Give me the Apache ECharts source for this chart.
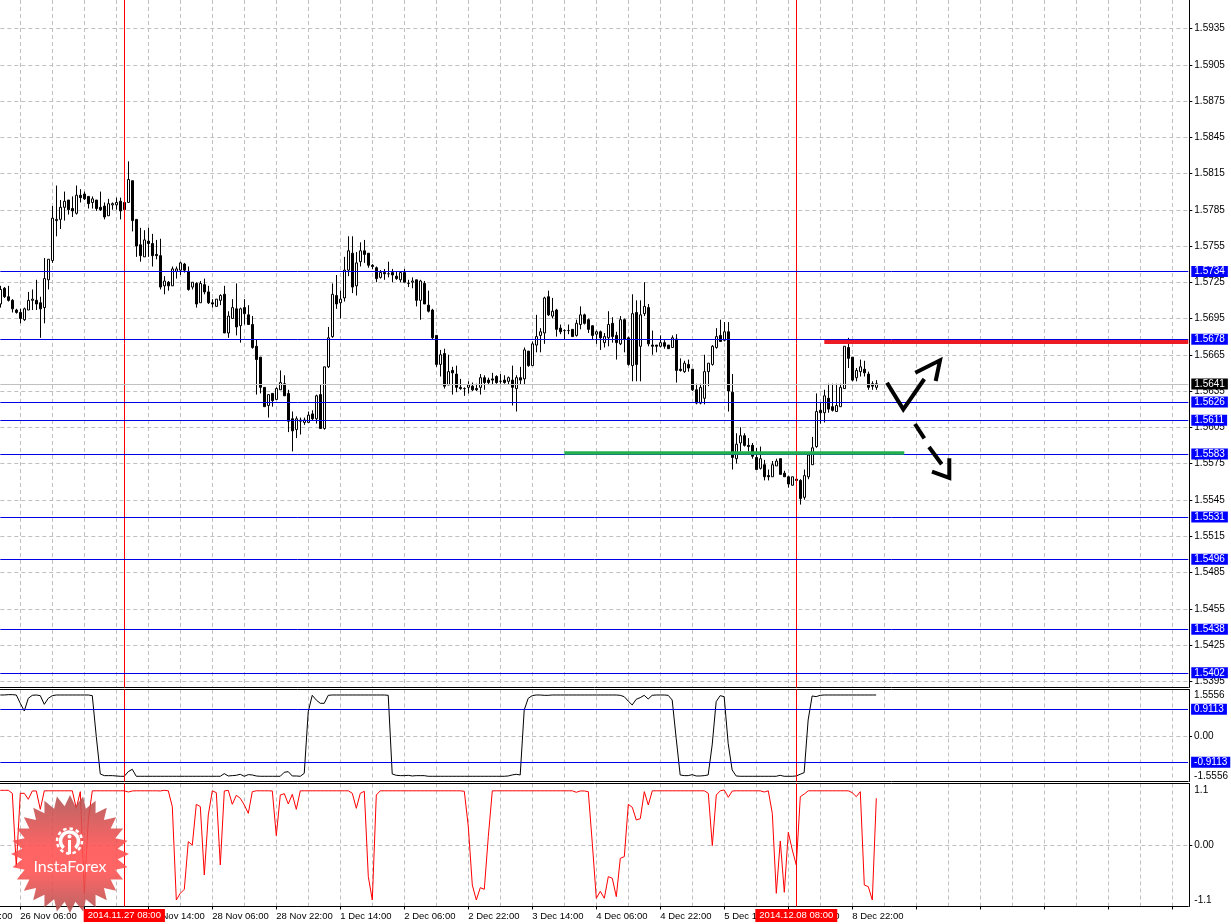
<!DOCTYPE html>
<html>
<head>
<meta charset="utf-8">
<title>GBP/USD H1</title>
<style>html,body{margin:0;padding:0;background:#fff}#c{width:1231px;height:924px}</style>
<script src="https://cdn.jsdelivr.net/npm/echarts@6/dist/echarts.min.js"></script>
</head>
<body>
<div id="c"></div>
<script>
// Prices, in points (price x 10000)
const opens = [
15706,15719,15712,15709,15701,15699,15693,15701,15709,15709,
15707,15703,15726,15742,15775,15776,15786,15792,15785,15781,
15796,15797,15795,15790,15792,15786,15787,15779,15788,15788,
15791,15790,15790,15808,15776,15755,15745,15758,15756,15747,
15746,15721,15724,15721,15733,15734,15739,15733,15720,15723,
15707,15722,15716,15707,15704,15709,15714,15682,15694,15702,
15688,15703,15697,15689,15671,15662,15637,15622,15632,15627,
15635,15640,15632,15611,15602,15609,15608,15608,15615,15611,
15631,15603,15654,15679,15713,15707,15711,15734,15748,15721,
15741,15750,15748,15738,15736,15728,15732,15731,15732,15729,
15726,15732,15723,15724,15726,15709,15723,15705,15701,15680,
15656,15665,15639,15651,15648,15637,15636,15637,15638,15636,
15637,15645,15643,15644,15646,15642,15643,15642,15643,15636,
15645,15644,15667,15655,15672,15680,15682,15712,15696,15701,
15686,15684,15684,15685,15680,15689,15697,15693,15688,15681,
15683,15674,15678,15690,15680,15673,15693,15678,15655,15699,
15671,15698,15703,15672,15672,15671,15674,15672,15670,15677,
15652,15650,15656,15652,15635,15624,15628,15650,15656,15670,
15680,15676,15683,15633,15578,15591,15597,15589,15589,15579,
15570,15573,15564,15563,15572,15578,15566,15563,15556,15561,
15560,15546,15563,15573,15588,15618,15616,15628,15621,15617,
15621,15636,15670,15662,15645,15650,15652,15648,15640,15637];
const closes = [
15718,15712,15709,15702,15699,15694,15702,15709,15710,15706,
15702,15727,15743,15777,15776,15786,15791,15784,15783,15796,
15794,15793,15789,15793,15785,15784,15778,15789,15789,15790,
15783,15784,15809,15775,15754,15746,15759,15756,15746,15746,
15720,15725,15721,15735,15735,15740,15734,15718,15724,15706,
15723,15716,15707,15706,15710,15713,15682,15696,15703,15687,
15702,15698,15689,15670,15660,15637,15621,15631,15626,15636,
15641,15630,15609,15601,15611,15610,15610,15614,15611,15630,
15603,15654,15678,15714,15706,15710,15734,15750,15720,15740,
15750,15747,15738,15737,15727,15732,15731,15731,15730,15727,
15732,15724,15723,15725,15709,15725,15706,15700,15678,15656,
15664,15638,15650,15649,15637,15636,15636,15639,15635,15635,
15645,15641,15641,15643,15641,15642,15641,15645,15637,15645,
15643,15668,15655,15673,15679,15683,15711,15697,15700,15685,
15683,15684,15684,15679,15690,15697,15690,15685,15680,15683,
15678,15679,15689,15679,15674,15693,15677,15656,15698,15656,
15697,15704,15673,15671,15671,15674,15671,15669,15678,15651,
15651,15657,15653,15635,15624,15637,15650,15657,15671,15679,
15675,15683,15634,15579,15590,15597,15589,15588,15580,15569,
15578,15563,15563,15573,15576,15565,15563,15557,15563,15560,
15545,15564,15581,15587,15617,15616,15630,15619,15618,15622,
15637,15671,15661,15643,15651,15654,15649,15637,15638,15640];
const highs = [
15721,15720,15721,15710,15702,15702,15703,15716,15718,15726,
15712,15744,15743,15787,15804,15792,15799,15792,15795,15804,
15801,15799,15795,15795,15792,15799,15790,15793,15790,15794,
15794,15790,15824,15808,15776,15769,15767,15769,15764,15759,
15760,15729,15725,15737,15737,15741,15740,15737,15724,15724,
15725,15727,15721,15710,15710,15714,15721,15700,15710,15723,
15703,15710,15705,15696,15677,15662,15637,15631,15632,15637,
15651,15647,15635,15617,15613,15612,15612,15617,15618,15631,
15639,15654,15687,15723,15730,15717,15745,15762,15762,15749,
15757,15759,15748,15739,15737,15734,15735,15741,15735,15733,
15733,15735,15726,15728,15726,15726,15725,15717,15702,15680,
15668,15669,15664,15654,15655,15644,15637,15642,15641,15640,
15648,15647,15645,15649,15647,15648,15647,15646,15655,15647,
15654,15670,15667,15675,15697,15686,15712,15717,15711,15702,
15689,15685,15689,15685,15693,15704,15698,15694,15688,15684,
15684,15682,15700,15695,15683,15696,15694,15679,15714,15709,
15709,15724,15706,15684,15672,15680,15676,15672,15680,15681,
15661,15659,15660,15652,15640,15640,15664,15657,15672,15686,
15693,15691,15691,15648,15599,15604,15599,15595,15591,15587,
15588,15577,15569,15576,15578,15578,15568,15564,15563,15561,
15561,15569,15581,15596,15632,15624,15635,15640,15640,15640,
15640,15671,15678,15662,15653,15660,15659,15650,15642,15643];
const lows = [
15703,15711,15708,15699,15698,15690,15692,15701,15701,15701,
15678,15690,15718,15740,15762,15768,15775,15780,15778,15780,
15790,15792,15785,15785,15783,15783,15776,15779,15784,15784,
15776,15783,15790,15766,15745,15741,15745,15745,15737,15743,
15718,15714,15717,15721,15727,15730,15732,15717,15718,15703,
15707,15714,15706,15703,15704,15705,15682,15678,15694,15680,
15674,15689,15689,15669,15631,15632,15621,15612,15621,15627,
15635,15630,15600,15584,15595,15598,15606,15608,15610,15607,
15603,15602,15653,15678,15702,15694,15708,15729,15715,15713,
15737,15740,15736,15735,15724,15727,15726,15728,15724,15726,
15724,15724,15720,15719,15704,15693,15706,15699,15677,15654,
15646,15636,15639,15631,15633,15635,15630,15632,15634,15634,
15631,15635,15639,15639,15640,15640,15640,15639,15622,15617,
15639,15639,15654,15655,15666,15666,15673,15696,15694,15679,
15681,15677,15681,15679,15679,15685,15689,15682,15677,15673,
15668,15670,15671,15674,15660,15672,15666,15655,15642,15642,
15642,15696,15671,15664,15666,15670,15669,15669,15670,15641,
15650,15649,15650,15634,15623,15623,15623,15638,15655,15669,
15675,15675,15617,15569,15574,15584,15588,15584,15578,15569,
15569,15560,15560,15563,15572,15565,15563,15554,15556,15560,
15540,15544,15561,15573,15587,15607,15608,15616,15617,15617,
15621,15636,15653,15642,15642,15646,15646,15635,15635,15635];

// Upper indicator pane (black line)
const upperIndicator = [
1.403,1.403,1.415,1.415,1.403,1.117,0.853,1.289,1.392,1.403,
1.380,1.082,1.289,1.380,1.403,1.403,1.403,1.403,1.403,1.403,
1.403,1.403,1.403,1.380,-0.029,-1.313,-1.370,-1.370,-1.370,-1.382,
-1.393,-1.393,-1.233,-1.152,-1.393,-1.393,-1.393,-1.393,-1.393,-1.393,
-1.393,-1.393,-1.393,-1.393,-1.393,-1.393,-1.393,-1.393,-1.393,-1.393,
-1.393,-1.393,-1.393,-1.393,-1.393,-1.393,-1.301,-1.382,-1.370,-1.359,
-1.324,-1.393,-1.336,-1.347,-1.382,-1.393,-1.393,-1.393,-1.393,-1.393,
-1.393,-1.255,-1.233,-1.382,-1.382,-1.393,-1.290,0.830,1.392,1.231,
1.117,1.117,1.392,1.403,1.403,1.403,1.403,1.403,1.403,1.403,
1.403,1.403,1.403,1.403,1.403,1.403,1.403,1.392,-1.313,-1.359,
-1.370,-1.370,-1.359,-1.382,-1.370,-1.370,-1.370,-1.393,-1.393,-1.393,
-1.393,-1.393,-1.393,-1.393,-1.393,-1.393,-1.393,-1.393,-1.393,-1.393,
-1.393,-1.393,-1.393,-1.393,-1.393,-1.393,-1.393,-1.382,-1.347,-1.324,
-1.347,0.888,1.289,1.380,1.403,1.403,1.392,1.392,1.403,1.403,
1.403,1.403,1.403,1.403,1.403,1.403,1.403,1.403,1.403,1.403,
1.403,1.403,1.403,1.403,1.403,1.392,1.346,1.197,1.060,1.254,
1.312,1.392,1.266,1.392,1.403,1.403,1.403,1.392,1.231,-0.087,
-1.347,-1.370,-1.370,-1.336,-1.382,-1.382,-1.370,-1.347,-0.316,1.174,
1.380,1.346,-0.258,-1.175,-1.382,-1.393,-1.393,-1.393,-1.393,-1.393,
-1.393,-1.393,-1.393,-1.393,-1.393,-1.359,-1.393,-1.393,-1.393,-1.382,
-1.324,-1.267,0.544,1.369,1.346,1.392,1.403,1.403,1.403,1.403,
1.403,1.403,1.403,1.403,1.403,1.403,1.403,1.403,1.403,1.403];

// Lower indicator pane (red line)
const lowerIndicator = [
1.10,1.10,1.10,1.04,-0.43,1.04,1.04,0.92,1.087,1.087,
0.719,1.09,1.09,1.09,1.09,1.09,1.09,1.09,1.09,0.739,
1.073,-0.964,0.505,1.09,1.09,1.09,1.09,1.09,1.09,1.09,
1.09,1.09,1.066,1.087,1.09,1.09,1.09,1.09,1.09,1.09,
1.087,1.10,1.09,0.773,-1.098,-0.964,-0.884,0.071,0.004,0.819,
0.773,-0.597,0.606,1.09,1.053,-0.396,1.087,1.10,0.819,1.00,
0.94,0.806,0.639,1.073,1.09,1.09,1.09,1.09,1.087,0.191,
1.006,1.033,0.826,1.02,0.719,1.09,1.09,1.09,1.09,1.09,
1.09,1.09,1.09,1.09,1.09,1.09,1.09,1.09,1.04,0.739,
1.04,1.08,-0.63,-1.098,1.006,1.09,1.09,1.09,1.09,1.09,
1.09,1.09,1.09,1.09,1.09,1.09,1.09,1.09,1.09,1.09,
1.09,1.09,1.09,1.09,1.09,1.09,1.08,0.372,-0.797,-1.098,
-0.851,-0.884,0.171,1.09,1.09,1.09,1.09,1.09,1.09,1.09,
1.09,1.09,1.09,1.09,1.09,1.09,1.09,1.09,1.09,1.09,
1.09,1.09,1.09,1.09,1.06,1.087,1.087,1.073,0.038,-1.064,
-0.924,-1.064,-0.63,-0.664,-1.031,-0.263,-0.229,0.819,0.759,0.505,
0.532,1.073,0.806,1.09,1.09,1.09,1.09,1.09,1.09,1.09,
1.09,1.09,1.09,1.09,1.09,1.09,1.09,1.04,-0.009,1.006,
1.09,1.107,0.96,1.087,1.09,1.09,1.09,1.09,1.09,1.09,
1.09,1.066,1.09,0.639,-0.964,0.085,-0.944,0.258,-0.096,-0.396,
0.973,1.026,1.09,1.09,1.09,1.09,1.09,1.09,1.09,1.09,
1.09,1.09,1.09,1.053,0.973,1.073,-0.797,-0.831,-1.098,0.94];

const levelsBlue = [1.5734, 1.5678, 1.5626, 1.5611, 1.5583, 1.5531, 1.5496, 1.5438, 1.5402];
const bidPrice = 1.5641;
const resistance = 1.5676;
const support = 1.5584;
const priceTicks = [1.5935,1.5905,1.5875,1.5845,1.5815,1.5785,1.5755,1.5725,1.5695,1.5665,1.5635,1.5605,1.5575,1.5545,1.5515,1.5485,1.5455,1.5425,1.5395];
const upperLevels = [0.9113, -0.9113];
const upperTickText = {'1.4': '1.5556', '0': '0.00', '-1.39': '-1.5556'};
const lowerTickText = {'1.1': '1.1', '0': '0.00', '-1.1': '-1.1'};
const tickLabels = ['26 Nov 06:00','26 Nov 22:00','27 Nov 14:00','28 Nov 06:00','28 Nov 22:00','1 Dec 14:00','2 Dec 06:00','2 Dec 22:00','3 Dec 14:00','4 Dec 06:00','4 Dec 22:00','5 Dec 14:00','8 Dec 06:00','8 Dec 22:00'];
const markerBars = [31, 199];
const markerLabels = ['2014.11.27 08:00', '2014.12.08 08:00'];
const BAR_SLOTS = 298, FIRST_TICK = 5;

const cats = Array.from({length: BAR_SLOTS}, (_, i) => 'b' + i);
const toPrice = v => (v + 1.2) / 10000;
const candles = opens.map((o, i) => [toPrice(o), toPrice(closes[i]), toPrice(lows[i]), toPrice(highs[i])]);

const FONT = '"Liberation Sans", Arial, sans-serif';
const FS = 10, FSX = 9.5;
const DASH = {color: '#c0c0c0', type: [4, 3], width: 1};
const panes = [
  {top: 0, h: 687.5},
  {top: 689.5, h: 92},
  {top: 783.5, h: 123}
];
const grids = panes.map(p => ({left: 0.3, width: 1188, top: p.top, height: p.h, containLabel: false}));

function xAxis(idx, withLabels) {
  return {
    type: 'category', gridIndex: idx, data: cats, boundaryGap: false,
    axisLine: {show: true, onZero: false, lineStyle: {color: '#000', width: 1}},
    axisTick: {show: withLabels, length: 3, interval: i => (i - FIRST_TICK) % 16 === 0, lineStyle: {color: '#000'}},
    splitLine: {show: true, interval: i => (i - FIRST_TICK) % 8 === 0, lineStyle: DASH},
    axisLabel: {
      show: withLabels, interval: i => (i - FIRST_TICK) % 16 === 0, align: 'left', margin: 5,
      fontFamily: FONT, fontSize: FSX, color: '#000', hideOverlap: false,
      formatter: (v, i) => tickLabels[(i - FIRST_TICK) / 16] || ''
    }
  };
}
function yAxis(idx, min, max, tickVals, labelVals, fmt) {
  return {
    type: 'value', gridIndex: idx, position: 'right', offset: 1, min, max, scale: true,
    axisLine: {show: true, onZero: false, lineStyle: {color: '#000', width: 1}},
    axisTick: {show: true, length: 3, customValues: tickVals, lineStyle: {color: '#000'}},
    splitLine: {show: true, lineStyle: DASH},
    axisLabel: {show: true, customValues: labelVals, margin: 5, fontFamily: FONT, fontSize: FS, color: '#000', formatter: fmt, hideOverlap: false}
  };
}
function tag(text, bg) {
  return {show: true, position: 'end', distance: 3, formatter: text, color: '#fff', backgroundColor: bg,
    fontFamily: FONT, fontSize: FS, padding: [1, 3, 0, 3], lineHeight: 10};
}
const vMarks = markerBars.map(b => ({xAxis: cats[b], lineStyle: {color: '#ff0000', width: 1, type: 'solid'}, label: {show: false}}));
const mainMarks = vMarks.concat(
  levelsBlue.map(v => ({yAxis: v, lineStyle: {color: '#0000e6', width: 1, type: 'solid'}, label: tag(v.toFixed(4), '#0000ff')})),
  [{yAxis: bidPrice, lineStyle: {color: '#c0c0c0', width: 1, type: 'solid'}, label: tag(bidPrice.toFixed(4), '#000')}],
  [[{coord: [cats[206], resistance], lineStyle: {color: '#ed1c24', width: 4, type: 'solid'}, label: {show: false}}, {coord: [cats[297], resistance]}]],
  [[{coord: [cats[141], support], lineStyle: {color: '#22b14c', width: 3.5, type: 'solid'}, label: {show: false}}, {coord: [cats[226], support]}]]
);
const upperMarks = vMarks.concat(upperLevels.map(v => ({yAxis: v, lineStyle: {color: '#0000e6', width: 1, type: 'solid'}, label: tag(v.toFixed(4), '#0000ff')})));

const option = {
  animation: false,
  backgroundColor: '#fff',
  textStyle: {fontFamily: FONT},
  grid: grids,
  xAxis: [xAxis(0, false), xAxis(1, false), xAxis(2, true)],
  yAxis: [
    yAxis(0, 1.538985, 1.595873, priceTicks, priceTicks, v => v.toFixed(4)),
    yAxis(1, -1.572, 1.592, [0], [1.4, 0, -1.39], v => upperTickText[String(v)] || ''),
    yAxis(2, -1.2285, 1.2365, [0], [1.1, 0, -1.1], v => lowerTickText[String(v)] || '')
  ],
  series: [
    {type: 'candlestick', xAxisIndex: 0, yAxisIndex: 0, data: candles, barWidth: 3,
     itemStyle: {color: '#fff', color0: '#000', borderColor: '#000', borderColor0: '#000', borderWidth: 1},
     markLine: {symbol: 'none', silent: true, animation: false, precision: 5, data: mainMarks}},
    {type: 'line', xAxisIndex: 1, yAxisIndex: 1, data: upperIndicator, showSymbol: false, symbol: 'none',
     lineStyle: {color: '#000', width: 1},
     markLine: {symbol: 'none', silent: true, animation: false, precision: 5, data: upperMarks}},
    {type: 'line', xAxisIndex: 2, yAxisIndex: 2, data: lowerIndicator, showSymbol: false, symbol: 'none',
     lineStyle: {color: '#ff0000', width: 1},
     markLine: {symbol: 'none', silent: true, animation: false, precision: 5, data: vMarks}}
  ]
};

// Hand-drawn chart annotations, the InstaForex stamp and the pane separators
const stroke = (points, w) => ({type: 'polyline', shape: {points}, style: {stroke: '#000', lineWidth: w, fill: null, lineJoin: 'miter'}, z: 20, silent: true});
const starPts = [];
const STAR_N = 28, cx = 70, cy = 854, rOut = 59, rIn = 48;
for (let k = 0; k < STAR_N * 2; k++) {
  const r = k % 2 ? rIn : rOut, a = Math.PI * k / STAR_N - Math.PI / 2;
  starPts.push([cx + r * Math.cos(a), cy + r * Math.sin(a)]);
}
const redTag = (text, bar) => ({type: 'text', z: 30, silent: true, x: 4 * bar + 0.3, y: 915.5,
  style: {text, fill: '#fff', backgroundColor: '#ff0000', font: FSX + 'px ' + FONT, align: 'center', verticalAlign: 'middle', padding: [2, 4, 1, 4]}});
option.graphic = {elements: [
  {type: 'line', shape: {x1: 0, y1: 689.5, x2: 1189, y2: 689.5}, style: {stroke: '#000', lineWidth: 1}, z: 5, silent: true},
  {type: 'line', shape: {x1: 0, y1: 783.5, x2: 1189, y2: 783.5}, style: {stroke: '#000', lineWidth: 1}, z: 5, silent: true},
  stroke([[887, 382.7], [903.3, 409.3], [924.3, 379]], 4),
  stroke([[915.3, 372.7], [940, 360.3], [935.7, 381]], 4),
  stroke([[915, 424], [924.3, 438.3]], 4),
  stroke([[929, 447], [941.7, 464.3]], 4),
  stroke([[949.3, 458.3], [949.3, 478], [932, 471.7]], 4),
  {type: 'polygon', z: 25, silent: true, shape: {points: starPts},
   style: {opacity: 0.88, fill: {type: 'linear', x: 0, y: 0, x2: 0, y2: 1, colorStops: [
     {offset: 0, color: '#b05050'}, {offset: 0.45, color: '#ff4f4f'}, {offset: 0.65, color: '#ff5050'}, {offset: 1, color: '#b05050'}]}}},
  {type: 'arc', z: 26, silent: true, shape: {cx: 69.5, cy: 841, r: 9, startAngle: Math.PI * 0.72, endAngle: Math.PI * 0.28, clockwise: true}, style: {fill: null, stroke: '#fff', lineWidth: 3.5}},
  {type: 'circle', z: 26, silent: true, shape: {cx: 69.5, cy: 841, r: 12.5}, style: {fill: null, stroke: '#fff', lineWidth: 2.5, lineDash: [3.5, 3]}},
  {type: 'line', z: 26, silent: true, shape: {x1: 69.5, y1: 840, x2: 69.5, y2: 854}, style: {stroke: '#fff', lineWidth: 3}},
  {type: 'circle', z: 26, silent: true, shape: {cx: 69.5, cy: 836.5, r: 2}, style: {fill: '#fff'}},
  {type: 'text', z: 26, silent: true, x: 70, y: 866.5, style: {text: 'InstaForex', fill: '#fff', font: '16px Lato, sans-serif', align: 'center', verticalAlign: 'middle'}},
  {type: 'text', z: 5, silent: true, x: -44, y: 916, style: {text: '25 Nov 14:00', fill: '#000', font: FSX + 'px ' + FONT, verticalAlign: 'middle'}},
  redTag(markerLabels[0], markerBars[0]),
  redTag(markerLabels[1], markerBars[1])
]};
const chart = echarts.init(document.getElementById('c'), null, {renderer: 'canvas', width: 1231, height: 924});
chart.setOption(option);
</script>
</body>
</html>
